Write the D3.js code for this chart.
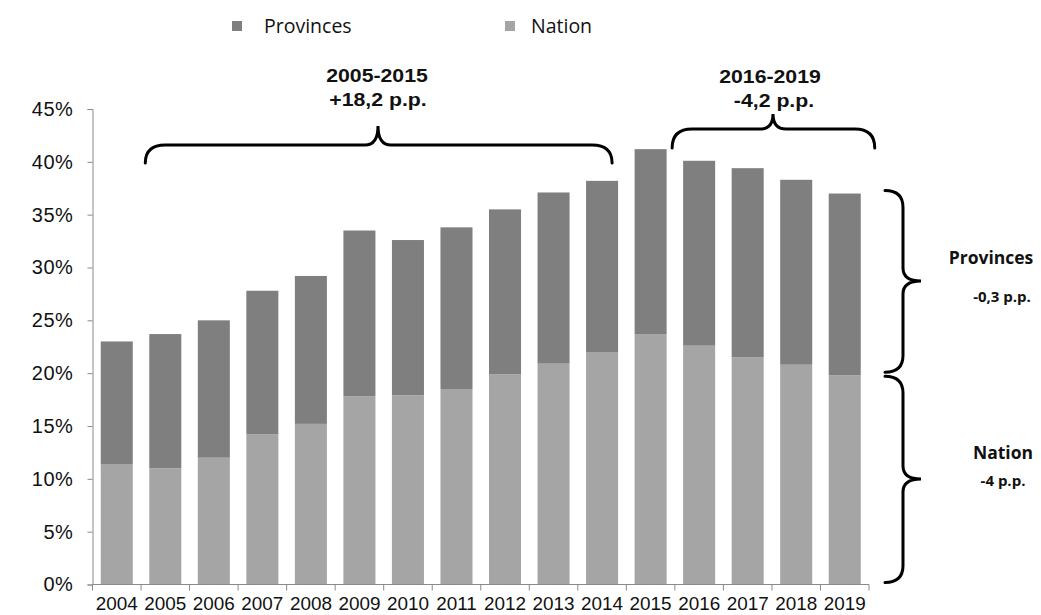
<!DOCTYPE html>
<html>
<head>
<meta charset="utf-8">
<script src="https://cdn.jsdelivr.net/npm/d3@7"></script>
<style>
  html, body { margin: 0; padding: 0; background: #fff; }
  svg { display: block; }
</style>
</head>
<body>
<svg id="chart" width="1041" height="615"></svg>
<script>
// Share of spending, stacked: national part at the bottom, provincial part on top
const years = ["2004","2005","2006","2007","2008","2009","2010","2011","2012","2013","2014","2015","2016","2017","2018","2019"];
const nation    = [11.4, 11.0, 12.0, 14.2, 15.2, 17.8, 17.9, 18.5, 19.9, 20.9, 22.0, 23.7, 22.6, 21.5, 20.8, 19.8];
const provinces = [11.6, 12.7, 13.0, 13.6, 14.0, 15.7, 14.7, 15.3, 15.6, 16.2, 16.2, 17.5, 17.5, 17.9, 17.5, 17.2];
const yTicks = [0, 5, 10, 15, 20, 25, 30, 35, 40, 45];
const seriesNames = ["Nation", "Provinces"];
const seriesColors = ["#a5a5a5", "#7f7f7f"];

const svg = d3.select("#chart");
const plotLeft = 92.5, plotRight = 869, plotTop = 109, plotBottom = 584.5;

const x = d3.scaleBand().domain(years).range([plotLeft, plotRight]).paddingInner(0.34).paddingOuter(0.17);
const y = d3.scaleLinear().domain([0, 45]).range([plotBottom, plotTop]);
const color = d3.scaleOrdinal().domain(seriesNames).range(seriesColors);

const rows = years.map((yr, i) => ({ year: yr, Nation: nation[i], Provinces: provinces[i] }));
const stacked = d3.stack().keys(seriesNames)(rows);

// bars
svg.append("g").selectAll("g").data(stacked).join("g")
  .attr("fill", d => color(d.key))
  .selectAll("rect").data(d => d).join("rect")
  .attr("x", d => x(d.data.year))
  .attr("width", x.bandwidth())
  .attr("y", d => y(d[1]))
  .attr("height", d => y(d[0]) - y(d[1]));

// y axis
const yAxis = svg.append("g").attr("transform", `translate(${plotLeft},0)`)
  .call(d3.axisLeft(y).tickValues(yTicks).tickFormat(d => d + "%").tickSize(5).tickPadding(14));
yAxis.select(".domain").attr("stroke", "#8a8a8a");
yAxis.selectAll(".tick line").attr("stroke", "#8a8a8a");
yAxis.selectAll("text")
  .attr("font-family", "Liberation Sans, Arial, sans-serif")
  .attr("font-size", 20).attr("letter-spacing", "0.6px").attr("fill", "#111");

// x axis with ticks at the category boundaries
const xAxis = svg.append("g").attr("transform", `translate(0,${plotBottom})`);
xAxis.append("line").attr("x1", plotLeft).attr("x2", plotRight).attr("stroke", "#8a8a8a");
const step = x.step();
const bounds = d3.range(years.length + 1).map(i => plotLeft + i * step);
xAxis.selectAll("line.b").data(bounds).join("line").attr("class", "b")
  .attr("x1", d => d).attr("x2", d => d).attr("y1", 0).attr("y2", 6)
  .attr("stroke", "#8a8a8a");
xAxis.selectAll("text").data(years).join("text")
  .attr("transform", d => `translate(${x(d) + x.bandwidth() / 2},${25.5}) scale(1.08,1)`)
  .attr("text-anchor", "middle")
  .attr("font-family", "Liberation Sans, Arial, sans-serif")
  .attr("font-size", 17.5).attr("fill", "#111")
  .text(d => d);

// legend
const legendItems = [
  { name: "Provinces", sx: 232, tx: 264 },
  { name: "Nation", sx: 505, tx: 531 }
];
const legend = svg.append("g");
legend.selectAll("rect").data(legendItems).join("rect")
  .attr("x", d => d.sx).attr("y", 21).attr("width", 10).attr("height", 10)
  .attr("fill", d => color(d.name));
legend.selectAll("text").data(legendItems).join("text")
  .attr("x", d => d.tx).attr("y", 33)
  .attr("font-family", "Open Sans, sans-serif").attr("font-size", 19.5).attr("fill", "#111")
  .text(d => d.name);

// curly braces
function hBrace(x1, x2, xm, yEnd, yLine, yTip, r, rt) {
  return `M${x1},${yEnd} Q${x1},${yLine} ${x1 + r},${yLine} L${xm - rt},${yLine} Q${xm},${yLine} ${xm},${yTip}` +
         ` Q${xm},${yLine} ${xm + rt},${yLine} L${x2 - r},${yLine} Q${x2},${yLine} ${x2},${yEnd}`;
}
function vBrace(y1, y2, ym, xEnd, xLine, xTip, r, rt) {
  return `M${xEnd},${y1} Q${xLine},${y1} ${xLine},${y1 + r} L${xLine},${ym - rt} Q${xLine},${ym} ${xTip},${ym}` +
         ` Q${xLine},${ym} ${xLine},${ym + rt} L${xLine},${y2 - r} Q${xLine},${y2} ${xEnd},${y2}`;
}
const braces = svg.append("g").attr("fill", "none").attr("stroke", "#000").attr("stroke-width", 3)
  .attr("stroke-linecap", "round");

const b1L = x("2005") - 4, b1R = x("2014") + x.bandwidth() - 6;
braces.append("path").attr("d", hBrace(b1L, b1R, 378, 163, 145, 126, 20, 13));
const b2L = x("2016") - 11, b2R = x("2019") + x.bandwidth() + 14;
braces.append("path").attr("d", hBrace(b2L, b2R, 773, 148, 129, 114, 20, 13));

const last = years.length - 1;
const totalLast = nation[last] + provinces[last];
braces.append("path").attr("d", vBrace(y(totalLast) - 3, y(nation[last]) - 3, 281, 885, 903, 921, 17, 13));
braces.append("path").attr("d", vBrace(y(nation[last]) + 1, y(0) - 2, 479, 885, 903, 921, 17, 13));

// annotation texts
function label(txt, cx, cy, size, family, sx) {
  svg.append("text")
    .attr("transform", `translate(${cx},${cy}) scale(${sx},1)`)
    .attr("text-anchor", "middle")
    .attr("font-family", family).attr("font-weight", "bold")
    .attr("font-size", size).attr("fill", "#111")
    .text(txt);
}
const arial = "Liberation Sans, Arial, sans-serif";
label("2005-2015", 377, 82, 19, arial, 1.12);
label("+18,2 p.p.", 378, 106, 19, arial, 1.12);
label("2016-2019", 770, 83, 19, arial, 1.12);
label("-4,2 p.p.", 774, 107, 19, arial, 1.12);

const calib = "Open Sans, sans-serif";
label("Provinces", 991, 264, 17.5, calib, 1);
label("-0,3 p.p.", 1002, 302, 15, calib, 1);
label("Nation", 1003, 459, 17.5, calib, 1);
label("-4 p.p.", 1003, 486, 15, calib, 1);
</script>
</body>
</html>
